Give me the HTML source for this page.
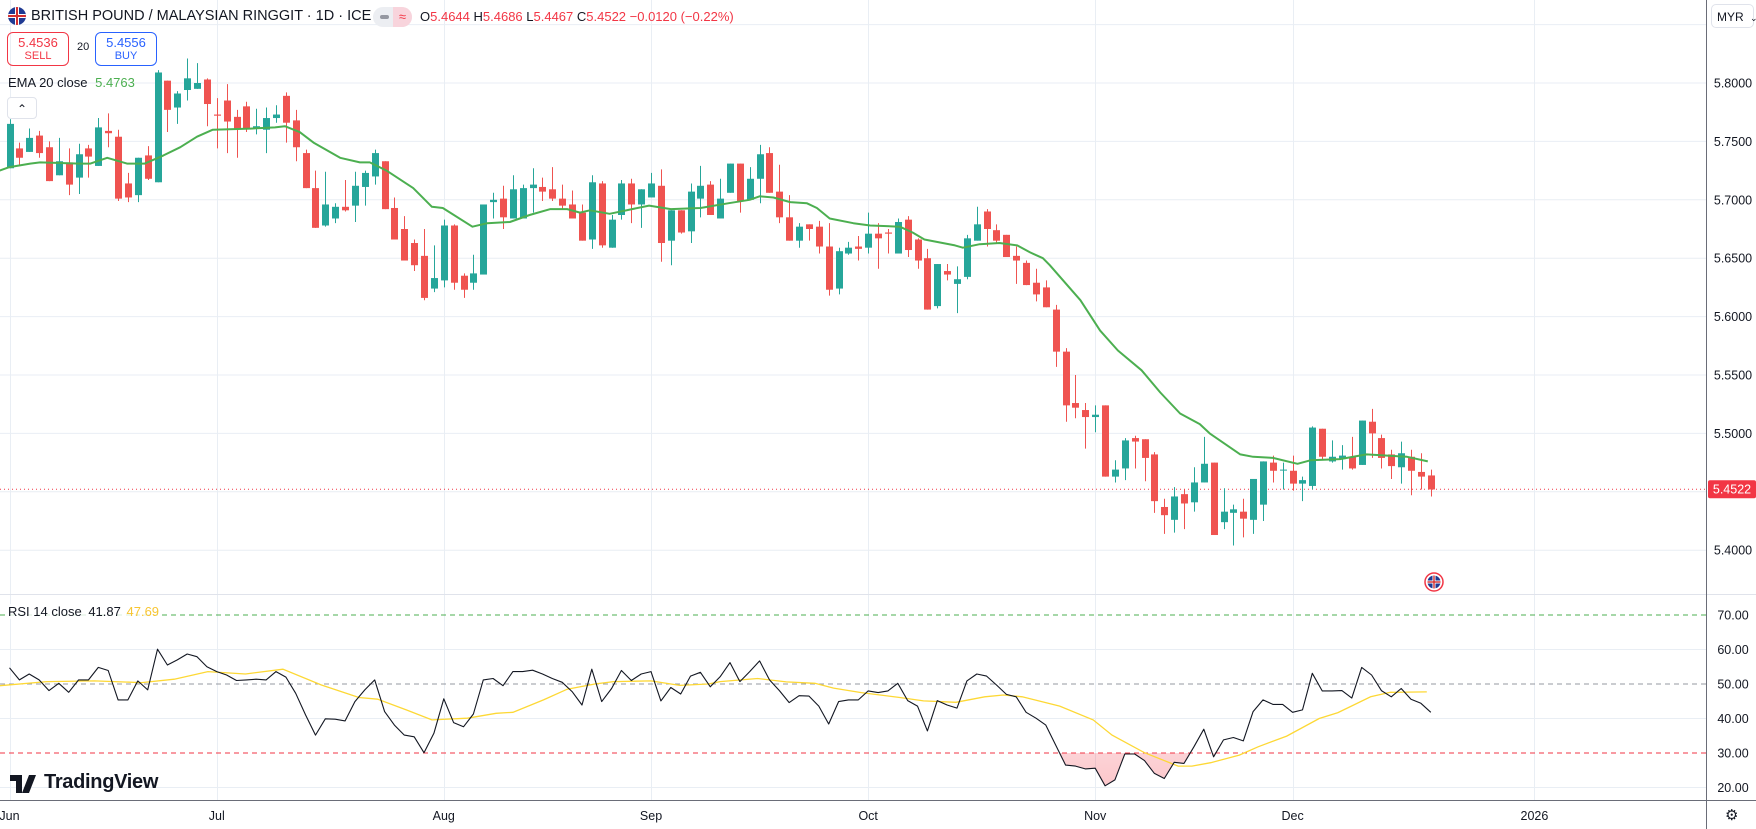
<!DOCTYPE html>
<html><head><meta charset="utf-8">
<style>
body{margin:0;background:#fff;font-family:"Liberation Sans",sans-serif;}
#wrap{position:relative;width:1756px;height:829px;overflow:hidden;background:#fff;}
svg{position:absolute;left:0;top:0;}
.hd{position:absolute;white-space:nowrap;}
</style></head><body>
<div id="wrap">
<svg id="chart" width="1756" height="829"></svg>

<div class="hd" style="left:8px;top:7px;width:18px;height:18px;border-radius:50%;background:#1f3a93;overflow:hidden;">
  <div style="position:absolute;left:0;top:7px;width:18px;height:4px;background:#fff"></div>
  <div style="position:absolute;left:7px;top:0;width:4px;height:18px;background:#fff"></div>
  <div style="position:absolute;left:0;top:8px;width:18px;height:2px;background:#d32f2f"></div>
  <div style="position:absolute;left:8px;top:0;width:2px;height:18px;background:#d32f2f"></div>
</div>
<div class="hd" style="left:31px;top:8px;font-size:14.5px;color:#131722;">BRITISH POUND / MALAYSIAN RINGGIT · 1D · ICE</div>
<div class="hd" style="left:373px;top:7px;width:39px;height:20px;border-radius:10px;background:#eceef2;overflow:hidden;">
  <div style="position:absolute;left:7px;top:8px;width:9px;height:4px;border-radius:2px;background:#9598a1"></div>
  <div style="position:absolute;left:20px;top:0;width:19px;height:20px;background:#f8d4dc;color:#f23645;font-size:13px;text-align:center;line-height:20px;">≈</div>
</div>
<div class="hd" style="left:420px;top:9px;font-size:13px;color:#f23645;">
<span style="color:#131722">O</span>5.4644 <span style="color:#131722">H</span>5.4686 <span style="color:#131722">L</span>5.4467 <span style="color:#131722">C</span>5.4522 −0.0120 (−0.22%)</div>

<div class="hd" style="left:7px;top:32px;width:60px;height:32px;border:1px solid #f23645;border-radius:6px;text-align:center;color:#f23645;">
<div style="font-size:13px;margin-top:2px">5.4536</div><div style="font-size:11px">SELL</div></div>
<div class="hd" style="left:77px;top:41px;font-size:11px;color:#131722;">20</div>
<div class="hd" style="left:95px;top:32px;width:60px;height:32px;border:1px solid #2962ff;border-radius:6px;text-align:center;color:#2962ff;">
<div style="font-size:13px;margin-top:2px">5.4556</div><div style="font-size:11px">BUY</div></div>
<div class="hd" style="left:8px;top:75px;font-size:13px;color:#131722;">EMA 20 close <span style="color:#4caf50;margin-left:4px">5.4763</span></div>
<div class="hd" style="left:7px;top:97px;width:28px;height:20px;border:1px solid #e0e3eb;border-radius:4px;background:#fff;text-align:center;font-size:12px;line-height:22px;color:#131722;">&#8963;</div>

<div class="hd" style="left:8px;top:604px;font-size:13px;color:#131722;background:rgba(255,255,255,0.8);">RSI 14 close <span style="margin-left:3px">41.87</span> <span style="color:#f7c531;margin-left:2px">47.69</span></div>

<div class="hd" style="left:1711px;top:4px;width:43px;height:24px;border:1px solid #e0e3eb;border-radius:5px;background:#fff;font-size:12px;line-height:24px;color:#131722;padding-left:5px;box-sizing:border-box;">MYR <span style="font-size:9px;margin-left:3px">&#8964;</span></div>

<div class="hd" style="left:10px;top:774px;height:20px;">
 <svg width="30" height="18" style="position:absolute;left:0;top:1px"><path d="M0 0H12V18H6V6H0Z M15 0 A3 3 0 1 1 15.01 0Z M19 0H26L19 18H12Z" fill="#131722"/></svg>
 <div style="position:absolute;left:34px;top:-3px;font-size:20px;font-weight:bold;color:#131722;letter-spacing:-0.3px;">TradingView</div>
</div>
<div class="hd" style="left:1725px;top:806px;font-size:15px;color:#131722;">⚙</div>
</div>

<script>
// ===== Price data (daily candles) =====
const open  = [5.727,5.744,5.741,5.755,5.745,5.721,5.732,5.719,5.744,5.729,5.759,5.754,5.714,5.704,5.738,5.715,5.802,5.779,5.794,5.795,5.803,5.773,5.785,5.771,5.780,5.761,5.760,5.770,5.789,5.768,5.740,5.710,5.678,5.684,5.694,5.695,5.711,5.720,5.733,5.693,5.675,5.663,5.652,5.624,5.631,5.678,5.635,5.629,5.636,5.698,5.701,5.684,5.684,5.710,5.711,5.709,5.701,5.696,5.689,5.666,5.714,5.659,5.687,5.714,5.696,5.702,5.712,5.665,5.691,5.673,5.701,5.713,5.684,5.706,5.731,5.700,5.718,5.740,5.707,5.685,5.665,5.679,5.677,5.660,5.624,5.654,5.660,5.659,5.671,5.672,5.654,5.683,5.666,5.650,5.609,5.639,5.628,5.634,5.665,5.690,5.674,5.670,5.652,5.646,5.629,5.625,5.606,5.570,5.526,5.520,5.514,5.524,5.463,5.470,5.496,5.495,5.482,5.437,5.426,5.448,5.441,5.458,5.475,5.424,5.432,5.433,5.426,5.439,5.475,5.469,5.468,5.457,5.455,5.504,5.476,5.478,5.480,5.473,5.510,5.496,5.482,5.471,5.480,5.467,5.464];
const high  = [5.769,5.749,5.761,5.759,5.750,5.753,5.744,5.748,5.747,5.770,5.774,5.760,5.723,5.736,5.746,5.811,5.802,5.793,5.821,5.817,5.804,5.787,5.799,5.777,5.784,5.778,5.779,5.781,5.792,5.777,5.743,5.725,5.724,5.697,5.717,5.724,5.725,5.743,5.733,5.702,5.686,5.666,5.675,5.661,5.683,5.679,5.637,5.653,5.696,5.706,5.712,5.721,5.713,5.727,5.719,5.728,5.713,5.708,5.696,5.721,5.716,5.687,5.717,5.718,5.709,5.723,5.726,5.691,5.691,5.714,5.729,5.716,5.718,5.731,5.731,5.728,5.747,5.745,5.730,5.704,5.680,5.679,5.682,5.680,5.659,5.664,5.669,5.689,5.680,5.675,5.684,5.686,5.667,5.658,5.645,5.645,5.643,5.670,5.694,5.692,5.679,5.670,5.660,5.648,5.641,5.631,5.610,5.573,5.550,5.526,5.524,5.524,5.477,5.496,5.498,5.495,5.484,5.444,5.454,5.452,5.471,5.497,5.475,5.453,5.439,5.444,5.461,5.476,5.481,5.475,5.481,5.463,5.506,5.504,5.494,5.490,5.497,5.511,5.521,5.499,5.486,5.493,5.486,5.483,5.469];
const low   = [5.727,5.730,5.741,5.736,5.716,5.721,5.704,5.705,5.719,5.729,5.745,5.699,5.698,5.698,5.717,5.715,5.758,5.765,5.785,5.795,5.763,5.744,5.740,5.736,5.758,5.756,5.740,5.766,5.749,5.733,5.710,5.676,5.677,5.680,5.690,5.681,5.695,5.713,5.692,5.666,5.648,5.639,5.614,5.621,5.625,5.623,5.616,5.623,5.636,5.684,5.675,5.684,5.684,5.689,5.699,5.699,5.692,5.684,5.665,5.658,5.659,5.659,5.683,5.680,5.676,5.702,5.647,5.644,5.671,5.663,5.685,5.687,5.684,5.706,5.689,5.700,5.697,5.706,5.680,5.665,5.659,5.665,5.654,5.618,5.619,5.653,5.648,5.654,5.641,5.654,5.654,5.651,5.641,5.606,5.607,5.631,5.603,5.632,5.665,5.660,5.663,5.651,5.628,5.627,5.613,5.608,5.557,5.510,5.513,5.487,5.501,5.463,5.458,5.460,5.470,5.459,5.432,5.414,5.415,5.418,5.433,5.458,5.413,5.418,5.404,5.411,5.414,5.425,5.458,5.452,5.451,5.442,5.452,5.477,5.475,5.469,5.469,5.473,5.479,5.470,5.461,5.457,5.447,5.452,5.446];
const close = [5.765,5.736,5.753,5.740,5.716,5.733,5.713,5.739,5.737,5.762,5.757,5.701,5.702,5.736,5.718,5.809,5.777,5.791,5.804,5.800,5.782,5.772,5.767,5.761,5.761,5.763,5.770,5.773,5.766,5.745,5.710,5.676,5.696,5.694,5.691,5.712,5.723,5.740,5.692,5.666,5.648,5.644,5.616,5.633,5.678,5.629,5.623,5.637,5.696,5.700,5.685,5.709,5.710,5.713,5.707,5.701,5.695,5.684,5.665,5.715,5.661,5.683,5.714,5.696,5.709,5.714,5.663,5.691,5.672,5.707,5.712,5.687,5.701,5.731,5.699,5.718,5.739,5.706,5.685,5.665,5.677,5.675,5.660,5.623,5.656,5.659,5.658,5.671,5.667,5.671,5.681,5.657,5.648,5.606,5.645,5.636,5.632,5.667,5.679,5.675,5.665,5.651,5.648,5.627,5.619,5.608,5.570,5.524,5.522,5.514,5.516,5.463,5.469,5.494,5.493,5.479,5.442,5.430,5.446,5.440,5.458,5.474,5.413,5.433,5.435,5.427,5.461,5.476,5.468,5.469,5.457,5.460,5.505,5.480,5.480,5.481,5.470,5.511,5.500,5.479,5.472,5.483,5.468,5.463,5.452];
// EMA 20 (sampled at bar positions)
const emaIdx = [-1,0,2.1,3.1,7.1,8.2,9.9,11.9,13.7,15.6,17.3,19,20.6,24.4,26.9,27.9,29.4,30.8,33.5,35.5,36.5,38.2,40.9,42.8,43.9,46.9,48.4,50.7,52.7,54.8,56.5,57.8,58.8,60.8,64.8,67,70,72.8,75,76,77.4,79.1,80.8,81.8,83.1,85.5,87.2,90.2,91.5,92.7,95.8,96.6,98.3,100.3,102.1,103.4,104.7,105.4,108.5,110.5,112.3,114.7,116.6,118.6,120.6,121.6,124.7,126,128,130.5,131.8,134.8,137.5,141.6,143.7];
const emaVal = [5.725,5.728,5.731,5.732,5.731,5.731,5.736,5.731,5.731,5.738,5.745,5.754,5.760,5.761,5.762,5.763,5.758,5.749,5.736,5.732,5.732,5.725,5.710,5.694,5.693,5.677,5.680,5.681,5.687,5.692,5.692,5.689,5.691,5.688,5.695,5.692,5.693,5.697,5.700,5.703,5.702,5.698,5.697,5.693,5.684,5.680,5.678,5.677,5.672,5.666,5.661,5.659,5.662,5.663,5.661,5.655,5.650,5.644,5.614,5.588,5.571,5.554,5.535,5.517,5.508,5.500,5.482,5.480,5.479,5.474,5.477,5.478,5.482,5.480,5.476];
// RSI 14
const rsi = [54.7,51.2,52.9,51.2,48.1,50.2,47.6,51.2,51.2,54.8,53.9,45.4,45.4,50.9,48.3,60.1,55.5,57.0,58.7,57.9,55.0,53.6,52.6,51.0,51.2,51.4,51.2,53.6,52.0,47.3,41.0,35.2,39.9,39.8,39.3,44.9,48.3,51.2,42.0,38.1,35.2,34.7,30.1,35.7,45.7,38.8,37.6,41.3,51.2,51.6,49.5,53.6,53.6,54.0,52.9,51.6,50.5,47.8,43.9,54.3,44.9,48.7,53.9,51.0,52.9,53.6,45.1,49.0,47.1,52.3,53.4,49.2,
52.1,56.2,50.7,53.6,56.7,51.2,48.1,44.6,46.6,46.5,43.6,38.4,44.9,45.4,45.4,48.0,47.5,48.0,50.2,45.2,43.6,36.4,45.2,43.9,43.0,50.9,52.9,52.3,49.7,47.0,46.3,41.8,40.1,38.1,32.3,26.5,26.2,25.4,25.6,20.5,22.2,29.7,29.7,27.8,24.1,22.6,27.3,27.0,31.8,36.9,28.9,33.8,34.5,33.5,42.0,45.4,44.1,44.1,41.8,42.5,53.1,48.0,48.0,48.1,45.9,54.8,52.6,48.1,46.3,48.7,45.6,44.4,41.8];
// RSI-based MA (sampled)
const maIdx = [-1,3.8,8.6,13.4,16.7,20.1,23.9,27.7,31.6,35.4,37.3,40.2,42.8,46.4,49.3,51,54.1,56.5,59.3,61.2,65,67.9,70.8,72,75.8,78.7,81.6,83.5,86.3,90.2,92.6,95.9,98.8,100.7,102.6,106.4,109.8,111.7,115,118.4,119.8,121.7,124.6,126.5,129.4,132.7,134.6,137.9,139.9,143.6];
const maVal = [49.5,50.7,50.9,50.4,51.4,53.6,52.9,54.3,49.7,46.1,45.6,42.5,39.6,40.1,41.5,41.8,45.4,48.5,50.0,50.7,50.9,49.6,50.0,50.7,51.6,50.6,50.2,48.8,47.5,46.1,45.1,44.7,46.3,46.8,46.3,43.6,39.6,35.2,30.1,26.2,26.2,27.2,29.4,31.8,34.9,40.0,41.7,46.3,47.6,47.7];
// Axis tick labels
const priceTicks = [5.80,5.75,5.70,5.65,5.60,5.55,5.50,5.40];
const priceGrid = [5.85,5.80,5.75,5.70,5.65,5.60,5.55,5.50,5.45,5.40];
const rsiTicks = [70,60,50,40,30,20];
const monthLabels = ["Jun","Jul","Aug","Sep","Oct","Nov","Dec","2026"];
const monthBarIdx = [0,21,44,65,87,110,130,154.5];
const lastPrice = 5.4522;

// ===== Scales =====
const X0 = 9.5, DX = 9.87;
function xOf(i){ return X0 + i*DX; }
function yP(p){ return 83 + (5.8 - p)*1168; }
function yR(v){ return 615 + (70 - v)*3.45; }
const PLOT_R = 1706;

const svg = document.getElementById('chart');
const NS = 'http://www.w3.org/2000/svg';
function mk(tag, attrs, parent){
  const e = document.createElementNS(NS, tag);
  for (const k in attrs) e.setAttribute(k, attrs[k]);
  (parent||svg).appendChild(e);
  return e;
}

// grid
const grid = mk('g', {});


priceGrid.forEach(p => {
  const l = mk('line', {x1:0, x2:PLOT_R, y1:yP(p), y2:yP(p), stroke:'#e9eef4', 'stroke-width':1}, grid);
  
  
});
[60,40,20].forEach(v => {
  const l = mk('line', {x1:0, x2:PLOT_R, y1:yR(v), y2:yR(v), stroke:'#e9eef4', 'stroke-width':1}, grid);
  
  
});
monthBarIdx.forEach(i => {
  const x = Math.round(xOf(i)) + 0.5;
  const l = mk('line', {x1:x, x2:x, y1:0, y2:800, stroke:'#e9eef4', 'stroke-width':1}, grid);
  
  
});

// pane separator & axes
const sep = mk('line', {x1:0, x2:1756, y1:594.5, y2:594.5, stroke:'#e0e3eb', 'stroke-width':1});


const ax = mk('line', {x1:PLOT_R+0.5, x2:PLOT_R+0.5, y1:0, y2:829, stroke:'#6a6d78', 'stroke-width':1});


const tax = mk('line', {x1:0, x2:1756, y1:800.5, y2:800.5, stroke:'#6a6d78', 'stroke-width':1});



// RSI band lines
const bands = [[70,'#4caf50'],[50,'#9598a1'],[30,'#f23645']];
bands.forEach(b => {
  const l = mk('line', {x1:0, x2:PLOT_R, y1:yR(b[0]), y2:yR(b[0]), stroke:b[1], 'stroke-width':1, 'stroke-dasharray':'5,4'});
  
  
});

// current price line
const cp = mk('line', {x1:0, x2:PLOT_R, y1:yP(lastPrice), y2:yP(lastPrice), stroke:'#f23645', 'stroke-width':1, 'stroke-dasharray':'1,3'});



// candles
const cg = mk('g', {});


for (let i = 0; i < close.length; i++){
  const up = close[i] >= open[i];
  const col = up ? '#26a69a' : '#ef5350';
  const x = Math.round(xOf(i));
  const g = mk('g', {}, cg);
  
  
  mk('line', {x1:x+0.5, x2:x+0.5, y1:yP(high[i]), y2:yP(low[i]), stroke:col, 'stroke-width':1}, g);
  const yt = yP(Math.max(open[i], close[i])), yb = yP(Math.min(open[i], close[i]));
  mk('rect', {x:x-3, y:yt, width:7, height:Math.max(1, yb-yt), fill:col}, g);
}

// EMA line
let d = '';
emaIdx.forEach((ix, k) => { d += (k ? 'L' : 'M') + xOf(ix).toFixed(1) + ' ' + yP(emaVal[k]).toFixed(1); });
const ema = mk('path', {d:d, fill:'none', stroke:'#4caf50', 'stroke-width':2, 'stroke-linejoin':'round'});



// RSI oversold fill
const defs = mk('defs', {});
const lg = mk('linearGradient', {id:'osg', x1:0, y1:0, x2:0, y2:1}, defs);
mk('stop', {offset:'0', 'stop-color':'#f23645', 'stop-opacity':'0.02'}, lg);
mk('stop', {offset:'1', 'stop-color':'#f23645', 'stop-opacity':'0.28'}, lg);
const cl = mk('clipPath', {id:'osclip'}, defs);
mk('rect', {x:0, y:yR(30), width:PLOT_R, height:yR(0)-yR(30)}, cl);
let fd = 'M' + xOf(0) + ' ' + yR(30);
rsi.forEach((v, i) => { fd += 'L' + xOf(i).toFixed(1) + ' ' + yR(v).toFixed(1); });
fd += 'L' + xOf(rsi.length-1) + ' ' + yR(30) + 'Z';
const fill = mk('path', {d:fd, fill:'url(#osg)', 'clip-path':'url(#osclip)'});



// RSI MA
let md = '';
maIdx.forEach((ix, k) => { md += (k ? 'L' : 'M') + xOf(ix).toFixed(1) + ' ' + yR(maVal[k]).toFixed(1); });
const ma = mk('path', {d:md, fill:'none', stroke:'#fdd835', 'stroke-width':1.3});



// RSI line
let rd = '';
rsi.forEach((v, i) => { rd += (i ? 'L' : 'M') + xOf(i).toFixed(1) + ' ' + yR(v).toFixed(1); });
const rl = mk('path', {d:rd, fill:'none', stroke:'#131722', 'stroke-width':1.1, 'stroke-linejoin':'round'});



// axis labels
priceTicks.forEach(p => {
  const t = mk('text', {x:1733, y:yP(p)+4.5, 'text-anchor':'middle', 'font-size':'12.5', fill:'#131722', 'font-family':'Liberation Sans, sans-serif'});
  t.textContent = p.toFixed(4);
  
  
});
const tag = mk('rect', {x:1708, y:yP(lastPrice)-9, width:48, height:18, fill:'#f23645', rx:2});


const tt = mk('text', {x:1732, y:yP(lastPrice)+4.5, 'text-anchor':'middle', 'font-size':'12.5', fill:'#fff', 'font-family':'Liberation Sans, sans-serif'});
tt.textContent = lastPrice.toFixed(4);


rsiTicks.forEach(v => {
  const t = mk('text', {x:1733, y:yR(v)+4.5, 'text-anchor':'middle', 'font-size':'12.5', fill:'#131722', 'font-family':'Liberation Sans, sans-serif'});
  t.textContent = v.toFixed(2);
  
  
});
monthLabels.forEach((m, k) => {
  const t = mk('text', {x:xOf(monthBarIdx[k]), y:820, 'text-anchor':'middle', 'font-size':'12.5', fill:'#131722', 'font-family':'Liberation Sans, sans-serif'});
  t.textContent = m;
  
  
});

// UK flag marker
const fg = mk('g', {});


mk('circle', {cx:1434, cy:582, r:9, fill:'#fff', stroke:'#f23645', 'stroke-width':1.5}, fg);
mk('circle', {cx:1434, cy:582, r:6.5, fill:'#1f3a93'}, fg);
mk('rect', {x:1427.5, y:580.5, width:13, height:3, fill:'#fff'}, fg);
mk('rect', {x:1432.5, y:575.5, width:3, height:13, fill:'#fff'}, fg);
mk('rect', {x:1427.5, y:581.3, width:13, height:1.4, fill:'#d32f2f'}, fg);
mk('rect', {x:1433.3, y:575.5, width:1.4, height:13, fill:'#d32f2f'}, fg);
</script>
</body></html>
